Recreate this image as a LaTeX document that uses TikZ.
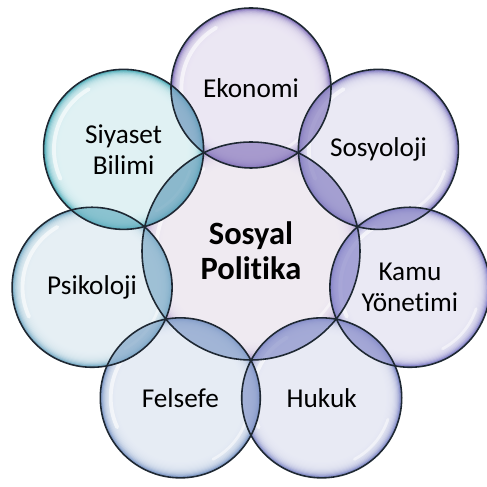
\documentclass[tikz,border=0pt]{standalone}
\usepackage{fontspec}
\setmainfont{Carlito}[Ligatures=NoCommon]
\usepackage{xcolor}

\definecolor{bubline}{HTML}{1E2833}
\definecolor{midin}{HTML}{F2EDF4} \definecolor{midout}{HTML}{B3A2D0}
\definecolor{ekoin}{HTML}{EEEAF6} \definecolor{ekoout}{HTML}{8E7EC0}
\definecolor{sosin}{HTML}{EDECF7} \definecolor{sosout}{HTML}{8983C4}
\definecolor{kamin}{HTML}{EDECF7} \definecolor{kamout}{HTML}{8B89CB}
\definecolor{hukin}{HTML}{EBEDF7} \definecolor{hukout}{HTML}{8A92CB}
\definecolor{felin}{HTML}{E9EFF7} \definecolor{felout}{HTML}{87A0CB}
\definecolor{psiin}{HTML}{E9F2F7} \definecolor{psiout}{HTML}{82B2CA}
\definecolor{siyin}{HTML}{E3F4F6} \definecolor{siyout}{HTML}{5CB3BE}

% fill of one bubble: centre, radius, inner colour, outer colour
\newcommand{\bubblefill}[4]{%
\fill[#4] (#1) circle (#2);
\foreach \k in {0,...,13}
  \fill[#3, fill opacity=0.27] (#1) circle[radius={#2*(0.975-0.014*\k)}];
\draw[white, opacity=0.6, line width=2.2pt, line cap=round] ([shift={(120:#2*0.87)}]#1) arc[start angle=120, end angle=205, radius=#2*0.87];
\draw[white, opacity=0.5, line width=1.6pt, line cap=round] ([shift={(-62:#2*0.87)}]#1) arc[start angle=-62, end angle=-18, radius=#2*0.87];
}

% overlap of two bubbles: centre 1, radius 1, centre 2, radius 2, tint
\newcommand{\lens}[5]{%
\begin{scope}
\clip (#1) circle (#2);
\fill[#5, fill opacity=0.72] (#3) circle (#4);
\end{scope}
}

\tikzset{
  ring/.style={circle, draw=bubline, line width=0.9pt, inner sep=0pt, minimum size=3.2cm, align=center,
    font=\fontsize{15.5}{17.5}\selectfont},
  core/.style={ring, minimum size=4.36cm, font=\fontsize{18.5}{20}\selectfont\bfseries}
}

\begin{document}
\begin{tikzpicture}
\useasboundingbox (-5.02,-4.72) rectangle (4.70,5.02);

%centre coordinates
\coordinate (midc) at (0,0);
\coordinate (ekoc) at (90:3.26); \coordinate (sosc) at (38.57:3.26); \coordinate (kamc) at (-12.86:3.26);
\coordinate (hukc) at (-64.29:3.26); \coordinate (felc) at (-115.71:3.26); \coordinate (psic) at (-167.14:3.26);
\coordinate (siyc) at (141.43:3.26);

%bubble fills
\bubblefill{midc}{2.18}{midin}{midout}
\bubblefill{ekoc}{1.6}{ekoin}{ekoout}
\bubblefill{sosc}{1.6}{sosin}{sosout}
\bubblefill{kamc}{1.6}{kamin}{kamout}
\bubblefill{hukc}{1.6}{hukin}{hukout}
\bubblefill{felc}{1.6}{felin}{felout}
\bubblefill{psic}{1.6}{psiin}{psiout}
\bubblefill{siyc}{1.6}{siyin}{siyout}

%overlaps with the centre
\lens{midc}{2.18}{ekoc}{1.6}{ekoout}
\lens{midc}{2.18}{sosc}{1.6}{sosout}
\lens{midc}{2.18}{kamc}{1.6}{kamout}
\lens{midc}{2.18}{hukc}{1.6}{hukout}
\lens{midc}{2.18}{felc}{1.6}{felout}
\lens{midc}{2.18}{psic}{1.6}{psiout!80!felout}
\lens{midc}{2.18}{siyc}{1.6}{siyout!70!ekoout}

%overlaps of neighbours
\lens{ekoc}{1.6}{sosc}{1.6}{ekoout!50!sosout}
\lens{sosc}{1.6}{kamc}{1.6}{sosout!50!kamout}
\lens{kamc}{1.6}{hukc}{1.6}{kamout!50!hukout}
\lens{hukc}{1.6}{felc}{1.6}{hukout!50!felout}
\lens{felc}{1.6}{psic}{1.6}{felout!50!psiout}
\lens{psic}{1.6}{siyc}{1.6}{siyout!60!psiout}
\lens{siyc}{1.6}{ekoc}{1.6}{siyout!55!ekoout}

%outlines and labels
\node[core] (sp) at (midc) {Sosyal\\Politika};
\node[ring] (eko) at (ekoc) {Ekonomi};
\node[ring] (sos) at (sosc) {Sosyoloji};
\node[ring] (kam) at (kamc) {Kamu\\Yönetimi};
\node[ring] (huk) at (hukc) {Hukuk};
\node[ring] (fel) at (felc) {Felsefe};
\node[ring] (psi) at (psic) {Psikoloji};
\node[ring] (siy) at (siyc) {Siyaset\\Bilimi};

\end{tikzpicture}
\end{document}
